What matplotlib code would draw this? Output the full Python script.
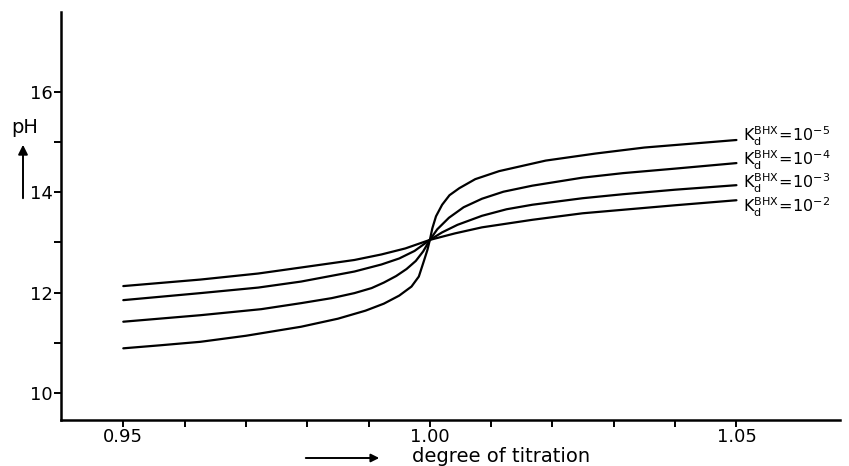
import matplotlib
matplotlib.use("Agg")
import matplotlib.pyplot as plt

# ---- data ----
kd_labels = ["10^{-5}", "10^{-4}", "10^{-3}", "10^{-2}"]

x_k5 = [0.95, 0.956, 0.9626, 0.97, 0.979, 0.985, 0.9895, 0.9925, 0.995, 0.997,
        0.9982, 0.9990, 0.9996, 1.0, 1.0004, 1.001, 1.002, 1.0032, 1.0048,
        1.0074, 1.0113, 1.0189, 1.027, 1.035, 1.043, 1.05]
y_k5 = [10.89, 10.95, 11.02, 11.14, 11.32, 11.48, 11.64, 11.78, 11.94, 12.12,
        12.32, 12.62, 12.85, 13.05, 13.28, 13.52, 13.75, 13.94, 14.08,
        14.26, 14.42, 14.63, 14.77, 14.89, 14.97, 15.04]

x_k4 = [0.95, 0.9626, 0.9725, 0.979, 0.984, 0.9877, 0.9905, 0.9925, 0.9945, 0.9962,
        0.9977, 0.9989, 1.0, 1.0012, 1.0031, 1.0055, 1.0085, 1.012, 1.0167,
        1.0249, 1.0315, 1.04, 1.05]
y_k4 = [11.42, 11.55, 11.67, 11.79, 11.89, 11.99, 12.09, 12.20, 12.33, 12.47,
        12.63, 12.82, 13.05, 13.26, 13.49, 13.70, 13.87, 14.01, 14.13,
        14.29, 14.38, 14.47, 14.58]

x_k3 = [0.95, 0.9626, 0.972, 0.979, 0.9877, 0.9921, 0.995, 0.9975, 1.0,
        1.002, 1.0045, 1.0085, 1.0125, 1.0167, 1.0249, 1.0315, 1.04, 1.05]
y_k3 = [11.85, 11.99, 12.10, 12.22, 12.42, 12.56, 12.68, 12.83, 13.05,
        13.20, 13.35, 13.53, 13.66, 13.75, 13.88, 13.96, 14.05, 14.14]

x_k2 = [0.95, 0.9626, 0.972, 0.979, 0.9877, 0.9921, 0.996, 1.0,
        1.0041, 1.0085, 1.0167, 1.0249, 1.0315, 1.04, 1.05]
y_k2 = [12.13, 12.26, 12.38, 12.50, 12.65, 12.76, 12.88, 13.05,
        13.18, 13.30, 13.45, 13.58, 13.65, 13.74, 13.84]

label_y = [15.12, 14.64, 14.17, 13.69]

x_major = [0.95, 1.00, 1.05]
x_major_labels = ["0.95", "1.00", "1.05"]
x_minor = [0.96, 0.97, 0.98, 0.99, 1.01, 1.02, 1.03, 1.04]
y_major = [10, 12, 14, 16]
y_minor = [11, 13, 15]

# ---- figure ----
plt.rcParams['font.family'] = ['DejaVu Sans']
W, H = 849, 466
fig = plt.figure(figsize=(W / 100, H / 100), dpi=100)
ax = fig.add_axes([61 / W, 1 - 420 / H, (840 - 61) / W, (420 - 12) / H])

for xs, ys in [(x_k5, y_k5), (x_k4, y_k4), (x_k3, y_k3), (x_k2, y_k2)]:
    ax.plot(xs, ys, color="black", lw=1.6, solid_capstyle="round", solid_joinstyle="round")

ax.set_xlim(0.93984, 1.06689)
ax.set_ylim(9.462, 17.59)

for s in ["top", "right"]:
    ax.spines[s].set_visible(False)
for s in ["left", "bottom"]:
    ax.spines[s].set_linewidth(1.8)

ax.set_xticks(x_major)
ax.set_xticklabels(x_major_labels)
ax.set_xticks(x_minor, minor=True)
ax.set_yticks(y_major)
ax.set_yticks(y_minor, minor=True)
ax.tick_params(which="both", direction="out", length=5, width=1.4, labelsize=13, pad=1)

for lab, yv in zip(kd_labels, label_y):
    ax.text(1.0511, yv, r"$\mathregular{K_d^{BHX}\!=\!" + lab + "}$",
            fontsize=11.5, va="center", ha="left", clip_on=False)

# pH label with arrow
fig.text(25 / W, 1 - 127 / H, "pH", fontsize=14, ha="center", va="center")
ax.annotate("", xy=(23 / W, 1 - 142 / H), xytext=(23 / W, 1 - 201 / H),
            xycoords="figure fraction", textcoords="figure fraction",
            arrowprops=dict(arrowstyle="-|>", color="black", lw=1.4, mutation_scale=14))

# x label with arrow
fig.text(501 / W, 1 - 456.5 / H, "degree of titration", fontsize=14, ha="center", va="center")
ax.annotate("", xy=(382 / W, 1 - 458 / H), xytext=(303 / W, 1 - 458 / H),
            xycoords="figure fraction", textcoords="figure fraction",
            arrowprops=dict(arrowstyle="-|>", color="black", lw=1.4, mutation_scale=12))

fig.savefig("out.png", dpi=100)
